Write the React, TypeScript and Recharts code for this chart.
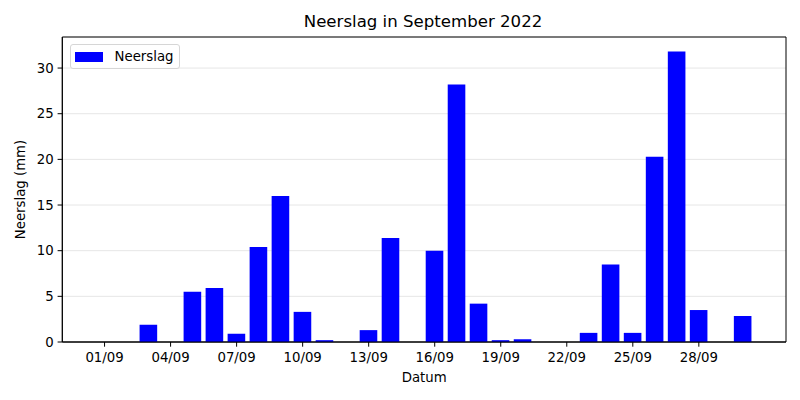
import { BarChart, Bar, XAxis, YAxis, CartesianGrid, ReferenceArea } from 'recharts'

const days = [1, 2, 3, 4, 5, 6, 7, 8, 9, 10, 11, 12, 13, 14, 15, 16, 17, 18, 19, 20, 21, 22, 23, 24, 25, 26, 27, 28, 29, 30]
const rain = [0, 0, 1.9, 0, 5.5, 5.9, 0.9, 10.4, 16.0, 3.3, 0.2, 0, 1.3, 11.4, 0, 10.0, 28.2, 4.2, 0.2, 0.3, 0, 0, 1.0, 8.5, 1.0, 20.3, 31.8, 3.5, 0, 2.85]
const xTicks = [1, 4, 7, 10, 13, 16, 19, 22, 25, 28]
const yTicks = [0, 5, 10, 15, 20, 25, 30]

const data = days.map((d, i) => ({ day: d, neerslag: rain[i] }))

const font = 'DejaVu Sans, sans-serif'
const tickStyle = { fontSize: 13.3, fill: '#000', fontFamily: font }
const xDomain = [-0.92, 31.96]
const yDomain = [0, 33.4]

function LegendBox() {
  return (
    <div
      style={{
        position: 'absolute',
        left: 69.5,
        top: 44,
        width: 108,
        height: 23,
        border: '1px solid #d6d6d6',
        borderRadius: 3,
        background: 'rgba(255,255,255,0.8)',
        display: 'flex',
        alignItems: 'center',
        fontFamily: font,
        fontSize: 13.3,
      }}
    >
      <span style={{ display: 'inline-block', width: 28, height: 10, background: '#0000ff', marginLeft: 4, marginRight: 12 }} />
      <span>Neerslag</span>
    </div>
  )
}

export default function App() {
  return (
    <div style={{ position: 'absolute', left: 0, top: 0, width: 800, height: 400, background: '#fff' }}>
      <div style={{ position: 'absolute', left: 0, top: 12, width: 846, textAlign: 'center', fontFamily: font, fontSize: 16.6 }}>
        Neerslag in September 2022
      </div>
      <BarChart width={800} height={400} data={data} margin={{ top: 37, right: 14, bottom: 0, left: 0 }}>
        <CartesianGrid horizontal vertical={false} stroke="#e6e6e6" />
        <XAxis
          dataKey="day"
          type="number"
          domain={xDomain}
          ticks={xTicks}
          tickFormatter={(v: number) => String(v).padStart(2, '0') + '/09'}
          tick={tickStyle}
          tickSize={4.7}
          tickMargin={6}
          tickLine={{ stroke: '#000' }}
          axisLine={{ stroke: '#000' }}
          allowDataOverflow
          height={58}
          label={{ value: 'Datum', position: 'insideBottom', offset: 18, style: { fontSize: 13.3, fill: '#000', fontFamily: font } }}
        />
        <YAxis
          domain={yDomain}
          ticks={yTicks}
          tick={tickStyle}
          tickSize={4.7}
          tickMargin={4}
          tickLine={{ stroke: '#000' }}
          axisLine={{ stroke: '#000' }}
          allowDataOverflow
          width={62.3}
          label={{ value: 'Neerslag (mm)', angle: -90, position: 'insideLeft', offset: 20, style: { textAnchor: 'middle', fontSize: 13.3, fill: '#000', fontFamily: font } }}
        />
        <Bar dataKey="neerslag" name="Neerslag" fill="#0000ff" barSize={17.6} isAnimationActive={false} />
        <ReferenceArea x1={xDomain[0]} x2={xDomain[1]} y1={yDomain[0]} y2={yDomain[1]} fill="none" stroke="#000" strokeWidth={1} ifOverflow="visible" />
      </BarChart>
      <LegendBox />
    </div>
  )
}
